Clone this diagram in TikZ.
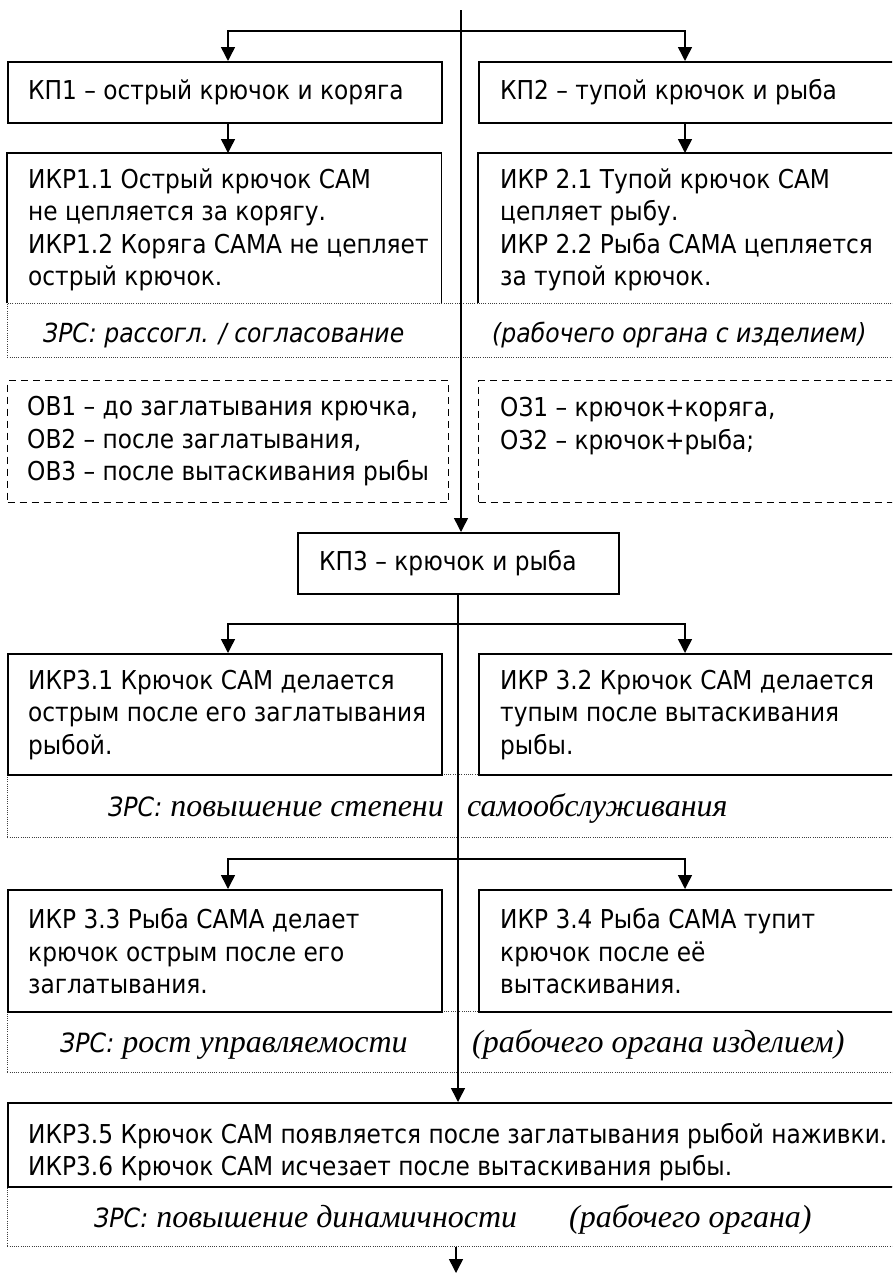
\documentclass[tikz,border=0pt]{standalone}
\usepackage{fontspec}
\setmainfont{DejaVu Sans}[FakeStretch=0.895]
\newfontfamily\serifit{Liberation Serif}[Ligatures=TeX]
\newcommand\zrslab{\fontsize{26.5}{32}\normalfont\itshape}
\usetikzlibrary{arrows.meta}
\tikzset{
  box/.style={draw, line width=1.8pt, inner sep=0pt, anchor=north west},
  openbox/.style={draw=none, inner sep=0pt, anchor=north west},
  dbox/.style={draw, line width=1.4pt, dash pattern=on 7pt off 5pt, inner sep=0pt, anchor=north west},
  zrs/.style={draw=black!75, line width=0.9pt, dash pattern=on 1pt off 1.2pt, inner sep=0pt, anchor=north west},
  txt/.style={anchor=west, align=left, inner sep=0pt, font=\fontsize{26}{32.5}\selectfont},
  ltxt/.style={anchor=base west, inner sep=0pt, font=\fontsize{26}{32.5}\selectfont},
  itxt/.style={anchor=base west, inner sep=0pt, font=\fontsize{26.3}{32}\selectfont\itshape},
  stxt/.style={anchor=base west, inner sep=0pt, font=\fontsize{32}{32}\selectfont\serifit\itshape},
  arr/.style={line width=1.5pt, -{Triangle[length=14pt,width=14pt]}},
  edge3/.style={line width=1.8pt},
}
\begin{document}
\begin{tikzpicture}[x=1pt,y=-1pt]
\useasboundingbox (0,0) rectangle (892,1274);
\clip (0,0) rectangle (892,1274);

% dotted bands
\node[zrs, minimum width=900pt, minimum height=54pt] (zrs1) at (7,303) {};
\node[zrs, minimum width=900pt, minimum height=63pt] (zrs2) at (7,774) {};
\node[zrs, minimum width=900pt, minimum height=61pt] (zrs3) at (7,1011) {};
\node[zrs, minimum width=900pt, minimum height=60pt] (zrs4) at (7,1186) {};

% boxes
\node[box, minimum width=434pt, minimum height=61pt] (kp1) at (7,61) {};
\node[box, minimum width=440pt, minimum height=61pt] (kp2) at (478,61) {};
\node[openbox, minimum width=434pt, minimum height=150pt] (ikr1) at (7,153) {};
\node[openbox, minimum width=440pt, minimum height=150pt] (ikr2) at (478,153) {};
\draw[edge3] (ikr1.south west) -- (ikr1.north west) -- (ikr1.north east) -- (ikr1.south east);
\draw[edge3] (ikr2.south west) -- (ikr2.north west) -- (ikr2.north east) -- (ikr2.south east);
\node[dbox, minimum width=441pt, minimum height=122pt] (ov) at (7,380) {};
\node[dbox, minimum width=440pt, minimum height=122pt] (oz) at (478,380) {};
\node[box, minimum width=321pt, minimum height=61pt] (kp3) at (297,532) {};
\node[box, minimum width=434pt, minimum height=121pt] (ikr31) at (7,653) {};
\node[box, minimum width=440pt, minimum height=121pt] (ikr32) at (478,653) {};
\node[box, minimum width=434pt, minimum height=122pt] (ikr33) at (7,889) {};
\node[box, minimum width=440pt, minimum height=122pt] (ikr34) at (478,889) {};
\node[box, minimum width=900pt, minimum height=84pt] (ikr35) at (7,1102) {};

% texts
\node[ltxt] (tkp1) at (28,99) {КП1 – острый крючок и коряга};
\node[ltxt] (tkp2) at (500,99) {КП2 – тупой крючок и рыба};
\node[txt] (tikr1) at (28,230) {ИКР1.1 Острый крючок САМ\\не цепляется за корягу.\\ИКР1.2 Коряга САМА не цепляет\\острый крючок.};
\node[txt] (tikr2) at (500,230) {ИКР 2.1 Тупой крючок САМ\\цепляет рыбу.\\ИКР 2.2 Рыба САМА цепляется\\за тупой крючок.};
\node[itxt] (tz1a) at (43,342) {ЗРС: рассогл. / согласование};
\node[itxt] (tz1b) at (492,342) {(рабочего органа с изделием)};
\node[txt] (tov) at (27,441.5) {ОВ1 – до заглатывания крючка,\\ОВ2 – после заглатывания,\\ОВ3 – после вытаскивания рыбы};
\node[txt] (toz) at (500,426) {ОЗ1 – крючок+коряга,\\ОЗ2 – крючок+рыба;};
\node[ltxt] (tkp3) at (319,570) {КП3 – крючок и рыба};
\node[txt] (tikr31) at (28,715) {ИКР3.1 Крючок САМ делается\\острым после его заглатывания\\рыбой.};
\node[txt] (tikr32) at (500,715) {ИКР 3.2 Крючок САМ делается\\тупым после вытаскивания\\рыбы.};
\node[stxt] (tz2a) at (108,816) {{\zrslab ЗРС:} повышение степени};
\node[stxt] (tz2b) at (467,816) {самообслуживания};
\node[txt] (tikr33) at (28,951.5) {ИКР 3.3 Рыба САМА делает\\крючок острым после его\\заглатывания.};
\node[txt] (tikr34) at (500,951.5) {ИКР 3.4 Рыба САМА тупит\\крючок после её\\вытаскивания.};
\node[stxt] (tz3a) at (60,1052) {{\zrslab ЗРС:} рост управляемости};
\node[stxt] (tz3b) at (472,1052) {(рабочего органа изделием)};
\node[txt] (tikr35) at (28,1152) {ИКР3.5 Крючок САМ появляется после заглатывания рыбой наживки.\\ИКР3.6 Крючок САМ исчезает после вытаскивания рыбы.};
\node[stxt] (tz4a) at (94,1227) {{\zrslab ЗРС:} повышение динамичности};
\node[stxt] (tz4b) at (569,1227) {(рабочего органа)};

% connectors
\coordinate (top) at (461,10);
\coordinate (b1) at (461,31);
\draw[arr] (top) -- (top |- kp3.north);
\draw[arr] (b1) -| ([xshift=221pt]kp1.north west);
\draw[arr] (b1) -| ([xshift=207pt]kp2.north west);
\draw[arr] ([xshift=221pt]kp1.south west) -- ([xshift=221pt]ikr1.north west);
\draw[arr] ([xshift=207pt]kp2.south west) -- ([xshift=207pt]ikr2.north west);

\coordinate (c3) at ([xshift=161pt]kp3.south west);
\draw[arr] (c3) -- (c3 |- ikr35.north);
\coordinate (b2) at (458,624);
\draw[arr] (b2) -| ([xshift=221pt]ikr31.north west);
\draw[arr] (b2) -| ([xshift=207pt]ikr32.north west);
\coordinate (b3) at (458,859);
\draw[arr] (b3) -| ([xshift=221pt]ikr33.north west);
\draw[arr] (b3) -| ([xshift=207pt]ikr34.north west);
\coordinate (fin) at (456,1273);
\draw[arr] (fin |- zrs4.south) -- (fin);
\end{tikzpicture}
\end{document}
